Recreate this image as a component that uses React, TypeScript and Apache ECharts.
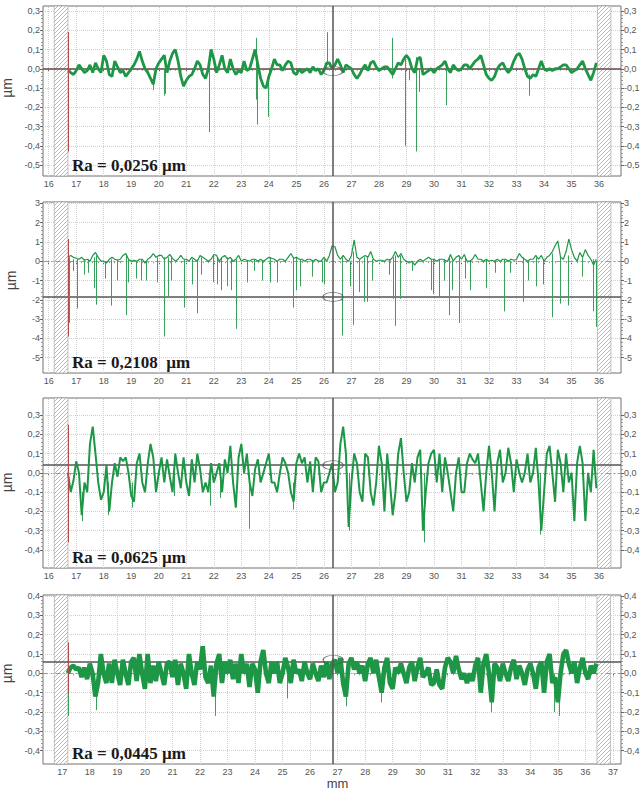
import React, { useEffect, useRef } from "react";
import * as echarts from "echarts";

// ---------- DATA ----------
const STEP = 0.1; // mm between samples of each profile

const start1 = 16.7;
const profile1 = [
  -0.01, -0.02, -0.03, -0.01, 0.02, 0.0, -0.02, -0.01, 0.02, -0.02,
  0.03, 0.0, -0.02, 0.07, 0.04, -0.03, -0.04, 0.04, 0.01, -0.02,
  -0.01, -0.04, -0.02, 0.0, 0.02, 0.05, 0.09, 0.04, 0.0, -0.02,
  -0.05, -0.08, 0.0, 0.03, 0.05, 0.07, -0.02, 0.04, 0.08, 0.1,
  0.04, -0.04, -0.09, -0.06, -0.04, -0.03, 0.0, 0.04, 0.02, -0.03,
  -0.05, 0.0, 0.1, 0.05, -0.02, 0.02, 0.07, 0.0, -0.02, 0.05,
  0.0, -0.03, -0.01, -0.02, 0.04, -0.01, 0.0, 0.05, 0.1, 0.02,
  -0.05, -0.09, -0.1, -0.04, 0.0, 0.05, 0.02, 0.02, -0.01, 0.02,
  0.04, 0.03, -0.02, -0.03, 0.0, -0.02, -0.01, 0.0, -0.02, 0.01,
  -0.01, 0.0, -0.03, -0.01, 0.03, 0.03, 0.0, 0.02, 0.05, 0.02,
  -0.02, 0.02, 0.01, 0.0, -0.03, -0.05, -0.03, 0.0, 0.02, -0.01,
  0.03, 0.04, 0.01, -0.01, 0.0, 0.01, 0.01, -0.01, -0.03, 0.0,
  0.03, 0.02, 0.05, 0.07, 0.05, 0.0, -0.02, 0.05, 0.06, -0.03,
  -0.02, -0.01, 0.0, -0.02, 0.0, 0.01, 0.02, 0.04, 0.0, -0.02,
  0.02, 0.0, -0.01, 0.0, 0.02, 0.02, 0.0, 0.02, 0.04, 0.05,
  0.07, 0.02, -0.03, -0.05, -0.06, -0.04, 0.0, 0.02, 0.03, 0.0,
  -0.02, 0.0, 0.04, 0.07, 0.08, 0.05, 0.0, -0.04, -0.05, -0.03,
  -0.04, 0.0, 0.04, 0.0, -0.01, 0.0, -0.01, 0.0, 0.0, 0.01,
  0.02, 0.02, 0.0, -0.02, -0.01, 0.0, 0.02, 0.04, 0.0, -0.03,
  -0.06, -0.02, 0.03,
];
// [x, from, to]
const spikes1 = [
  [19.8, -0.06, -0.11], [20.2, 0.0, -0.14], [20.23, 0.0, -0.13], [21.83, 0.0, -0.33],
  [23.54, 0.16, -0.16], [23.56, 0.05, -0.29], [23.97, -0.05, -0.25], [26.13, 0.02, 0.19],
  [28.47, 0.16, -0.05], [28.96, 0.05, -0.4], [29.37, 0.06, -0.43], [29.45, 0.0, -0.12],
  [30.45, 0.03, -0.19], [33.45, -0.03, -0.14], [29.1, 0.0, -0.06],
];

const start2 = 16.7;
const profile2 = [
  0.2, 0.3, 0.2, 0.15, 0.1, 0.2, 0.05, 0.1, 0.0, 0.3,
  0.45, 0.2, 0.0, 0.0, -0.1, 0.1, 0.2, 0.1, 0.05, 0.1,
  0.3, 0.4, 0.1, 0.0, 0.05, 0.0, 0.1, 0.1, -0.1, 0.1,
  0.2, 0.4, 0.2, 0.3, 0.3, 0.1, 0.2, 0.35, 0.15, 0.0,
  0.1, 0.3, 0.1, 0.1, 0.0, 0.2, 0.1, 0.0, 0.3, 0.2,
  0.1, 0.0, 0.1, 0.35, 0.3, 0.0, 0.2, 0.3, 0.1, 0.2,
  0.0, 0.1, 0.3, 0.0, 0.1, 0.05, 0.0, 0.1, 0.1, 0.0,
  0.1, 0.0, 0.1, 0.2, 0.15, 0.1, 0.0, 0.1, 0.1, 0.0,
  0.2, 0.4, 0.15, 0.2, 0.1, 0.1, 0.0, 0.1, 0.1, 0.0,
  0.1, 0.0, 0.0, 0.2, 0.0, 0.3, 0.8, 0.75, 0.3, 0.1,
  0.3, 0.1, 0.0, 0.3, 1.1, 0.2, 0.1, 0.2, 0.3, 0.2,
  0.5, 0.1, 0.0, 0.05, 0.05, 0.0, 0.1, 0.05, 0.2, 0.5,
  0.2, 0.4, 0.1, 0.0, -0.1, 0.0, -0.2, 0.0, 0.1, 0.0,
  0.1, 0.2, 0.1, 0.1, 0.0, 0.1, 0.1, 0.05, 0.0, 0.35,
  0.0, 0.2, 0.3, 0.1, 0.35, 0.0, 0.0, 0.1, 0.35, 0.1,
  0.1, 0.0, 0.1, 0.0, 0.05, 0.0, 0.1, 0.0, 0.1, 0.1,
  0.0, 0.1, 0.05, 0.1, 0.4, 0.2, 0.1, 0.0, 0.1, 0.1,
  0.3, 0.1, 0.3, 0.0, 0.2, 0.3, 0.5, 0.8, 1.05, 0.2,
  0.1, 0.5, 1.15, 0.6, 0.2, 0.0, 0.45, 0.2, 0.6, 0.3,
  0.1, -0.2, 0.1,
];
const spikes2 = [
  [16.73, 0.2, -3.2], [16.9, 0.1, -0.5], [17.05, 0.1, -2.45], [17.3, 0.1, -0.7], [17.45, 0.1, -0.6],
  [17.66, 0.2, -1.4], [17.73, 0.3, -2.25], [18.06, 0.0, -0.9], [18.27, 0.1, -2.3], [18.5, 0.1, -1.0],
  [18.81, 0.3, -2.8], [18.9, 0.1, -1.1], [19.18, 0.0, -0.9], [19.38, 0.1, -1.0], [19.56, 0.0, -1.0],
  [19.93, 0.2, -1.1], [20.19, 0.2, -3.9], [20.35, 0.2, -1.8], [20.45, 0.2, -1.0], [20.91, 0.1, -2.4],
  [21.2, 0.1, -1.2], [21.38, 0.1, -2.7], [21.56, 0.2, -0.7], [21.99, 0.3, -1.1], [22.11, 0.2, -1.2],
  [22.27, 0.2, -1.5], [22.47, 0.2, -1.3], [22.65, 0.1, -1.5], [22.8, 0.1, -3.5], [23.2, 0.05, -1.1],
  [23.47, 0.1, -0.5], [23.75, 0.05, -1.0], [24.05, 0.2, -1.1], [24.29, 0.0, -1.1], [24.87, 0.2, -2.4],
  [24.99, 0.2, -1.5], [25.14, 0.1, -1.3], [25.56, 0.05, -0.8], [25.94, 0.0, -1.1], [26.02, 0.1, -1.2],
  [26.67, 0.2, -3.85], [26.96, 0.0, -1.3], [27.08, 0.5, -3.3], [27.3, 0.1, -1.6], [27.45, 0.2, -2.1],
  [27.58, 0.2, -2.1], [27.76, 0.1, -1.0], [28.36, 0.1, -0.7], [28.51, 0.2, -1.95], [28.58, 0.3, -3.35],
  [28.78, 0.3, -1.95], [29.21, 0.0, -0.5], [29.9, 0.1, -1.5], [29.96, 0.1, -1.7], [30.18, 0.1, -1.9],
  [30.36, 0.1, -1.0], [30.57, 0.2, -2.8], [30.67, 0.0, -1.5], [30.93, 0.2, -3.2], [31.14, 0.2, -0.9],
  [31.32, 0.0, -1.5], [31.9, 0.1, -1.4], [32.24, 0.0, -0.6], [32.57, 0.1, -2.6], [32.78, 0.0, -0.6],
  [33.26, 0.2, -2.1], [33.42, 0.0, -1.0], [33.7, 0.2, -1.3], [33.96, 0.1, -1.2], [34.3, 0.4, -2.9],
  [34.59, 0.2, -2.2], [34.87, 0.3, -2.3], [35.39, 0.2, -0.8], [35.78, 0.1, -2.6], [35.88, 0.0, -3.4],
];

const start3 = 16.7;
const profile3 = [
  0.0, -0.1, -0.04, 0.06, 0.0, -0.22, -0.05, -0.1, 0.15, 0.24,
  0.1, -0.05, -0.14, -0.1, 0.04, -0.2, -0.05, 0.05, -0.02, 0.08,
  0.06, 0.08, 0.0, -0.12, -0.15, 0.05, 0.1, -0.05, -0.1, 0.05,
  0.15, 0.08, -0.1, 0.0, 0.08, -0.05, 0.07, -0.02, -0.1, 0.1,
  0.0, -0.08, 0.08, -0.05, -0.12, 0.07, -0.05, 0.1, 0.02, -0.1,
  -0.05, -0.1, 0.05, -0.05, 0.0, 0.05, -0.1, 0.07, 0.0, 0.14,
  -0.05, -0.18, 0.08, 0.15, 0.0, 0.1, -0.05, -0.12, 0.02, 0.07,
  -0.05, 0.0, 0.05, 0.1, -0.05, -0.05, -0.1, 0.0, 0.08, 0.05,
  0.0, -0.1, -0.15, 0.05, 0.1, 0.05, 0.08, -0.05, 0.06, -0.1,
  0.08, 0.06, -0.1, -0.05, -0.05, 0.0, 0.05, -0.1, -0.05, 0.15,
  0.24, 0.1, -0.28, -0.05, 0.1, 0.05, -0.1, -0.15, 0.1, 0.08,
  -0.1, -0.17, -0.05, 0.14, 0.05, -0.2, 0.1, -0.05, -0.22, -0.1,
  0.1, 0.18, 0.0, -0.15, -0.1, 0.05, -0.05, 0.08, 0.12, -0.3,
  -0.1, 0.05, 0.1, 0.12, -0.05, 0.1, -0.1, 0.08, 0.0, -0.1,
  -0.2, 0.0, 0.08, -0.1, -0.1, 0.05, 0.1, 0.07, 0.05, 0.1,
  -0.05, -0.2, 0.0, 0.14, 0.0, -0.2, 0.05, 0.12, -0.05, 0.0,
  0.13, 0.05, -0.1, 0.07, 0.0, -0.05, 0.0, 0.1, -0.05, 0.0,
  0.13, -0.05, -0.3, -0.1, 0.1, 0.14, 0.0, -0.15, 0.12, 0.05,
  -0.1, 0.1, -0.05, 0.0, -0.25, 0.05, 0.14, 0.05, -0.25, 0.0,
  -0.1, 0.12, -0.08,
];
const spikes3 = [
  [17.22, -0.1, -0.25], [18.17, -0.05, -0.22], [19.05, -0.05, -0.18], [21.87, 0.0, -0.17],
  [23.28, 0.0, -0.29], [24.88, -0.05, -0.19], [26.91, 0.0, -0.3], [29.64, 0.0, -0.36],
  [33.85, 0.0, -0.32], [20.55, 0.0, -0.12], [22.25, 0.0, -0.13],
];

const start4 = 17.2;
const profile4 = [
  0.0, 0.03, 0.04, 0.02, 0.03, -0.02, 0.03, -0.03, 0.05, 0.0,
  -0.12, -0.05, 0.1, 0.0, -0.05, 0.05, -0.05, 0.07, 0.0, -0.06,
  0.07, 0.0, -0.06, 0.06, 0.08, -0.04, 0.1, 0.0, -0.08, 0.1,
  -0.05, 0.04, -0.04, 0.06, 0.0, -0.06, 0.05, 0.06, -0.02, 0.07,
  -0.06, 0.05, 0.0, -0.08, 0.1, 0.0, -0.06, 0.06, 0.02, 0.14,
  -0.02, -0.05, 0.04, -0.12, 0.05, 0.1, -0.05, 0.06, 0.0, 0.07,
  -0.03, 0.05, -0.05, 0.1, 0.0, 0.05, -0.07, 0.05, 0.02, -0.1,
  0.06, 0.12, 0.0, -0.05, 0.06, 0.0, 0.06, -0.05, 0.0, 0.08,
  0.03, -0.05, 0.07, 0.0, 0.02, -0.04, 0.06, 0.0, -0.03, 0.05,
  0.0, -0.04, 0.04, -0.02, 0.06, -0.03, 0.05, 0.07, 0.0, 0.08,
  -0.05, -0.12, 0.05, 0.08, 0.02, 0.06, 0.0, 0.04, -0.04, 0.05,
  0.08, 0.0, 0.07, -0.02, -0.1, 0.03, 0.08, -0.05, -0.08, 0.03,
  0.0, 0.05, 0.0, -0.05, 0.03, 0.06, -0.04, 0.03, 0.08, -0.02,
  0.0, 0.03, -0.06, -0.05, 0.02, -0.06, -0.08, 0.03, 0.08, 0.06,
  0.0, 0.09, 0.02, -0.03, 0.0, -0.05, 0.0, -0.04, 0.04, 0.08,
  -0.1, 0.05, 0.1, 0.0, -0.15, 0.05, 0.03, -0.04, 0.05, 0.0,
  -0.04, 0.03, 0.07, -0.03, 0.04, 0.0, -0.06, 0.02, 0.05, 0.0,
  -0.08, 0.03, 0.06, -0.1, 0.06, 0.1, -0.05, -0.02, -0.15, 0.0,
  0.1, 0.12, 0.05, 0.0, 0.06, -0.05, 0.03, 0.08, 0.0, -0.03,
  0.04, 0.0, 0.05,
];
const spikes4 = [
  [17.2, 0.0, -0.22], [18.25, -0.05, -0.19], [22.55, -0.05, -0.22], [25.17, 0.0, -0.13],
  [27.3, -0.05, -0.17], [28.6, -0.05, -0.15], [32.57, -0.05, -0.2], [34.86, 0.0, -0.2],
  [35.05, -0.05, -0.22],
];

const starts = [start1, start2, start3, start4];
const profiles = [profile1, profile2, profile3, profile4];
const spikes = [spikes1, spikes2, spikes3, spikes4];

// axis tick ranges: [min, max] for x; [min, max, interval] for y
const xTickRange = [[16, 36], [16, 36], [16, 36], [17, 37]];
const yTickRange = [[-0.5, 0.3, 0.1], [-5, 3, 1], [-0.4, 0.3, 0.1], [-0.4, 0.4, 0.1]];
const raLabels = ["Ra = 0,0256 µm", "Ra = 0,2108  µm", "Ra = 0,0625 µm", "Ra = 0,0445 µm"];
const cursorX = [26.33, 26.33, 26.33, 26.84];
const levelY = [null, -1.85, 0.035, 0.062];
const ellipseY = [-0.012, -1.85, 0.04, 0.07];
const startMark = [[16.7, 0.19, -0.43], [16.72, 1.15, -3.9], [16.7, 0.25, -0.36], [17.2, 0.16, -0.1]];
const hatchLeft = [[16.2, 16.7], [16.2, 16.7], [16.2, 16.7], [16.71, 17.2]];
const hatchRight = [[35.94, 36.43], [35.94, 36.43], [35.94, 36.43], [36.42, 36.91]];

// ---------- LAYOUT ----------
const BOX_LEFT = 43;
const BOX_RIGHT = 621;
const layouts = [
  { boxTop: 6, boxBottom: 176, xPx: [48.7, 599.1], yPx: [11, 165], lw: 2.8 },
  { boxTop: 202, boxBottom: 373, xPx: [48.7, 599.1], yPx: [203.3, 357.7], lw: 1.2 },
  { boxTop: 398, boxBottom: 568, xPx: [48.7, 599.1], yPx: [415, 550], lw: 2 },
  { boxTop: 595, boxBottom: 764, xPx: [62.3, 612.9], yPx: [596, 750.7], lw: 4.6 },
];

const GREEN = "#1d9746";
const SPIKE_GREEN = "#3a9f5a";

function tickList(min: number, max: number, step: number) {
  const out: number[] = [];
  for (let k = 0; ; k++) {
    const v = min + k * step;
    if (v > max + 1e-9) break;
    out.push(+v.toFixed(4));
  }
  return out;
}

function makeHatch() {
  const c = document.createElement("canvas");
  c.width = 4;
  c.height = 4;
  const ctx = c.getContext("2d")!;
  ctx.fillStyle = "#ffffff";
  ctx.fillRect(0, 0, 4, 4);
  ctx.strokeStyle = "#a8a8a8";
  ctx.lineWidth = 0.8;
  ctx.beginPath();
  ctx.moveTo(0, 4); ctx.lineTo(4, 0);
  ctx.moveTo(-1, 1); ctx.lineTo(1, -1);
  ctx.moveTo(3, 5); ctx.lineTo(5, 3);
  ctx.stroke();
  return c;
}

function buildOption() {
  const hatch = makeHatch();
  const option: any = {
    animation: false,
    backgroundColor: "#ffffff",
    grid: [],
    xAxis: [],
    yAxis: [],
    series: [],
    graphic: [],
  };
  const labelStyle = { fontSize: 9, color: "#555", fontFamily: "Arial, 'Liberation Sans', sans-serif" };

  layouts.forEach((L, i) => {
    const [xt0, xt1] = xTickRange[i];
    const [yt0, yt1, yi] = yTickRange[i];
    const xs = (xt1 - xt0) / (L.xPx[1] - L.xPx[0]);
    const boxXMin = xt0 - (L.xPx[0] - BOX_LEFT) * xs;
    const boxXMax = xt1 + (BOX_RIGHT - L.xPx[1]) * xs;
    const ys = (yt1 - yt0) / (L.yPx[1] - L.yPx[0]);
    const boxYMax = yt1 + (L.yPx[0] - L.boxTop) * ys;
    const boxYMin = yt0 - (L.boxBottom - L.yPx[1]) * ys;
    const dec = yi < 1;
    const fmt = (v: number) => {
      if (Math.abs(v) < 1e-9) v = 0;
      return dec ? v.toFixed(1).replace(".", ",") : String(Math.round(v));
    };

    // grid A: data box, grid B: labelled ticks
    option.grid.push({
      left: BOX_LEFT, top: L.boxTop, width: BOX_RIGHT - BOX_LEFT, height: L.boxBottom - L.boxTop,
      show: true, borderColor: "#707070", borderWidth: 1, backgroundColor: "#ffffff",
      containLabel: false, outerBoundsMode: "none",
    });
    option.grid.push({
      left: L.xPx[0], top: L.yPx[0], width: L.xPx[1] - L.xPx[0], height: L.yPx[1] - L.yPx[0],
      show: false, containLabel: false, outerBoundsMode: "none",
    });
    const gA = 2 * i, gB = 2 * i + 1;
    const xA = 2 * i;
    const yA = 3 * i;

    option.xAxis.push({ gridIndex: gA, type: "value", min: boxXMin, max: boxXMax, show: false });
    option.xAxis.push({
      gridIndex: gB, type: "value", min: xt0, max: xt1, interval: 1, position: "bottom",
      offset: L.boxBottom - L.yPx[1],
      axisLine: { show: false },
      axisTick: { show: true, length: 3, lineStyle: { color: "#666", width: 1 } },
      minorTick: { show: true, splitNumber: 5, length: 2, lineStyle: { color: "#999", width: 1 } },
      splitLine: { show: false }, minorSplitLine: { show: false },
      axisLabel: { ...labelStyle, margin: 3 },
      name: i === 3 ? "mm" : "", nameLocation: "middle", nameGap: 13,
      nameTextStyle: { fontSize: 13, color: "#444", fontFamily: "Arial, 'Liberation Sans', sans-serif" },
    });

    option.yAxis.push({ gridIndex: gA, type: "value", min: boxYMin, max: boxYMax, show: false });
    const yCommon = {
      gridIndex: gB, type: "value", min: yt0, max: yt1, interval: yi,
      axisLine: { show: false },
      axisTick: { show: true, length: 3, lineStyle: { color: "#666", width: 1 } },
      minorTick: { show: true, splitNumber: 5, length: 2, lineStyle: { color: "#999", width: 1 } },
      splitLine: { show: false }, minorSplitLine: { show: false },
      axisLabel: { ...labelStyle, margin: 3, formatter: fmt },
    };
    option.yAxis.push({
      ...yCommon, position: "left", offset: L.xPx[0] - BOX_LEFT,
      name: "µm", nameLocation: "middle", nameGap: 25,
      nameTextStyle: { fontSize: 14, color: "#444", fontFamily: "Arial, 'Liberation Sans', sans-serif" },
    });
    option.yAxis.push({ ...yCommon, position: "right", offset: BOX_RIGHT - L.xPx[1] });

    const xTicks = tickList(xt0, xt1, 1);
    const yTicks = tickList(yt0, yt1, yi);

    // grid lines + hatched margins
    option.series.push({
      type: "line", xAxisIndex: xA, yAxisIndex: yA, data: [], silent: true, z: 1,
      markLine: {
        silent: true, z: 1, symbol: ["none", "none"], label: { show: false },
        lineStyle: { color: "#cfcfcf", type: "dotted", width: 1 },
        emphasis: { disabled: true },
        data: [...xTicks.map((v) => ({ xAxis: v })), ...yTicks.map((v) => ({ yAxis: v }))],
      },
      markArea: {
        silent: true, z: 2,
        itemStyle: { color: { image: hatch, repeat: "repeat" }, borderColor: "#9a9a9a", borderWidth: 0.6 },
        emphasis: { disabled: true },
        data: [
          [{ xAxis: hatchLeft[i][0] }, { xAxis: hatchLeft[i][1] }],
          [{ xAxis: hatchRight[i][0] }, { xAxis: hatchRight[i][1] }],
        ],
      },
    });

    // horizontal reference lines (below the profile)
    const hLines: any[] = [];
    if (i === 0) {
      hLines.push({ yAxis: 0, lineStyle: { color: "#6a4646", type: "solid", width: 1.5 } });
    } else {
      hLines.push({ yAxis: 0, lineStyle: { color: "#d77f7f", type: [5, 3, 1.5, 3], width: 1 } });
      hLines.push({ yAxis: levelY[i], lineStyle: { color: "#555", type: "solid", width: 1.5 } });
    }
    option.series.push({
      type: "line", xAxisIndex: xA, yAxisIndex: yA, data: [], silent: true, z: 2,
      markLine: {
        silent: true, z: 3, symbol: ["none", "none"], label: { show: false },
        emphasis: { disabled: true }, data: hLines,
      },
    });

    // profile
    const st = starts[i];
    option.series.push({
      type: "line", xAxisIndex: xA, yAxisIndex: yA, z: 4, silent: true,
      showSymbol: false, symbol: "none",
      lineStyle: { color: GREEN, width: L.lw, join: "bevel" },
      data: profiles[i].map((v, k) => [+(st + k * STEP).toFixed(2), v]),
    });

    // spikes
    option.series.push({
      type: "lines", coordinateSystem: "cartesian2d", xAxisIndex: xA, yAxisIndex: yA, z: 4,
      silent: true, polyline: false,
      lineStyle: { color: SPIKE_GREEN, width: 1, opacity: 1 },
      data: spikes[i].map(([x, a, b]) => ({ coords: [[x, a], [x, b]] })),
    });

    // vertical cursor, start marker
    const sm = startMark[i];
    option.series.push({
      type: "line", xAxisIndex: xA, yAxisIndex: yA, data: [], silent: true, z: 5,
      markLine: {
        silent: true, z: 6, symbol: ["none", "none"], label: { show: false },
        emphasis: { disabled: true },
        data: [
          { xAxis: cursorX[i], lineStyle: { color: "#555", type: "solid", width: 1.5 } },
          [
            { coord: [sm[0], sm[1]], lineStyle: { color: "#b24c4c", type: "solid", width: 1 } },
            { coord: [sm[0], sm[2]] },
          ],
        ],
      },
    });

    // cursor ellipse
    option.series.push({
      type: "scatter", xAxisIndex: xA, yAxisIndex: yA, z: 6, silent: true,
      symbol: "circle", symbolSize: [20, 9],
      itemStyle: { color: "rgba(0,0,0,0)", borderColor: "#555", borderWidth: 1 },
      data: [[cursorX[i], ellipseY[i]]],
    });

    option.graphic.push({
      type: "text", left: 72, top: L.boxBottom - 19, z: 20, silent: true,
      style: {
        text: raLabels[i], fontSize: 17, fontWeight: "bold",
        fontFamily: "'Liberation Serif', 'DejaVu Serif', serif", fill: "#1a1a1a",
      },
    });
  });
  return option;
}

export default function App() {
  const ref = useRef<HTMLDivElement>(null);
  useEffect(() => {
    if (!ref.current) return;
    const chart = echarts.init(ref.current, undefined, { renderer: "svg" });
    chart.setOption(buildOption());
    return () => chart.dispose();
  }, []);
  return (
    <div
      ref={ref}
      style={{ position: "fixed", left: 0, top: 0, width: 643, height: 791, background: "#fff" }}
    />
  );
}
